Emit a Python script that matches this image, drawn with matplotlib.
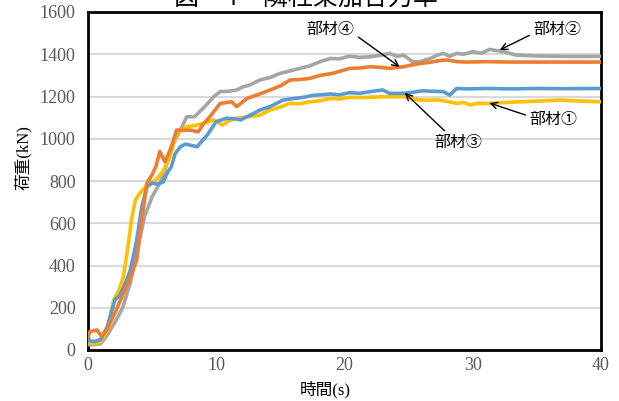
import matplotlib
matplotlib.use("Agg")
import matplotlib.pyplot as plt

# 部材① (yellow)
t1 = [0, 0.5, 1.0, 1.5, 2.0, 2.4, 2.75, 3.1, 3.4, 3.7, 4.05, 4.6, 5.2, 5.85, 6.4, 6.9,
      7.3, 7.7, 8.3, 9.0, 9.4, 9.8, 10.2, 10.5, 11.0, 11.6, 12.6, 13.4, 14.2, 15.0, 15.75,
      16.5, 17.3, 18.1, 18.9, 19.6, 20.4, 21.5, 23.0, 24.6, 25.3, 25.9, 26.7, 27.4, 28.2,
      28.75, 29.3, 29.8, 30.4, 31.1, 32.0, 33.7, 35.0, 36.8, 38.5, 40]
v1 = [35, 30, 40, 90, 237, 280, 345, 480, 620, 710, 743, 780, 800, 845, 915, 1026,
      1040, 1057, 1062, 1073, 1080, 1089, 1075, 1065, 1085, 1097, 1105, 1112, 1136, 1150, 1168,
      1165, 1175, 1180, 1191, 1188, 1196, 1195, 1199, 1199, 1190, 1183, 1183, 1183, 1175,
      1167, 1172, 1160, 1168, 1167, 1170, 1175, 1178, 1183, 1178, 1175]

# 部材② (gray)
t2 = [0, 0.5, 1.0, 1.5, 2.2, 2.7, 3.3, 3.8, 4.4, 5.0, 5.6, 6.0, 6.5, 7.2, 7.7, 8.3, 9.1,
      9.8, 10.3, 11.0, 11.6, 12.1, 12.6, 13.4, 14.2, 15.0, 15.7, 16.5, 17.3, 18.1, 18.9,
      19.6, 20.4, 21.2, 22.0, 22.8, 23.5, 24.1, 24.6, 25.3, 25.9, 26.7, 27.2, 27.7, 28.2,
      28.75, 29.3, 30.0, 30.7, 31.3, 32.4, 33.4, 35, 37, 40]
v2 = [25, 25, 30, 70, 142, 200, 317, 460, 630, 725, 790, 850, 960, 1041, 1104, 1104, 1152,
      1199, 1223, 1225, 1231, 1246, 1254, 1278, 1290, 1310, 1320, 1333, 1345, 1365, 1380,
      1378, 1391, 1385, 1388, 1395, 1404, 1390, 1396, 1365, 1365, 1380, 1395, 1404, 1390,
      1404, 1400, 1412, 1405, 1423, 1412, 1396, 1392, 1390, 1390]

# 部材③ (blue)
t3 = [0, 0.5, 1.0, 1.5, 2.1, 2.5, 3.0, 3.3, 3.8, 4.2, 4.6, 5.0, 5.4, 5.85, 6.2, 6.5, 6.8,
      7.2, 7.6, 7.95, 8.5, 8.9, 9.3, 10.0, 10.8, 11.4, 11.9, 12.6, 13.4, 14.2, 15.2, 16.0,
      16.8, 17.5, 18.9, 19.6, 20.4, 21.2, 22.0, 23.0, 23.5, 24.6, 25.3, 26.1, 26.8, 27.7,
      28.2, 28.75, 29.5, 31.1, 33, 35, 37, 40]
v3 = [45, 40, 50, 110, 237, 260, 330, 378, 520, 680, 773, 790, 785, 795, 840, 868, 930,
      962, 975, 970, 962, 990, 1018, 1081, 1097, 1095, 1089, 1110, 1136, 1152, 1183, 1190,
      1196, 1205, 1212, 1208, 1218, 1215, 1223, 1231, 1215, 1215, 1220, 1227, 1225, 1223,
      1207, 1238, 1236, 1238, 1236, 1238, 1237, 1238]

# 部材④ (orange)
t4 = [0, 0.15, 0.7, 1.07, 1.5, 2.2, 2.7, 3.2, 3.8, 4.2, 4.6, 5.0, 5.3, 5.6, 6.0, 6.5, 6.9,
      7.4, 7.95, 8.6, 9.0, 9.5, 10.3, 11.2, 11.6, 12.4, 13.4, 14.2, 15.0, 15.75, 16.5, 17.3,
      18.1, 19.1, 20.4, 21.2, 22.0, 22.8, 23.5, 24.6, 25.3, 26.0, 26.7, 27.4, 28.0, 28.75,
      29.5, 31.1, 33, 35, 37, 40]
v4 = [60, 87, 95, 63, 100, 189, 260, 330, 426, 620, 790, 830, 870, 940, 891, 960, 1041,
      1040, 1041, 1033, 1070, 1104, 1167, 1175, 1152, 1191, 1212, 1231, 1250, 1278, 1280, 1286,
      1300, 1310, 1333, 1335, 1341, 1338, 1333, 1341, 1350, 1357, 1362, 1370, 1373, 1365,
      1363, 1365, 1363, 1363, 1363, 1363]

labels = ["部材①", "部材②", "部材③", "部材④"]
colors = ["#FFC000", "#A5A5A5", "#5B9BD5", "#ED7D31"]

serif = ["Liberation Serif", "Noto Sans CJK JP"]
cjk = ["Noto Sans CJK JP", "DejaVu Sans"]
plt.rcParams["font.family"] = serif

fig = plt.figure(figsize=(6.19, 4.01), dpi=100)
ax = fig.add_axes([88 / 619, 51 / 401, 513 / 619, 338 / 401])

ax.plot(t2, v2, color=colors[1], lw=2.6, zorder=3)
ax.plot(t1, v1, color=colors[0], lw=2.6, zorder=3)
ax.plot(t3, v3, color=colors[2], lw=2.6, zorder=4)
ax.plot(t4, v4, color=colors[3], lw=2.6, zorder=5)

ax.set_xlim(0, 40)
ax.set_ylim(0, 1600)
ax.set_xticks([0, 10, 20, 30, 40])
ax.set_yticks(range(0, 1601, 200))
ax.grid(axis="y", color="#D9D9D9", lw=1.5, zorder=0)
ax.set_axisbelow(True)
for s in ax.spines.values():
    s.set_linewidth(2)
    s.set_color("black")
ax.tick_params(length=0, colors="#595959", labelsize=13)
ax.tick_params(axis="y", pad=9)
ax.tick_params(axis="x", pad=5)

# annotations: text position, arrow tip, arrow start on text
ann = [
    ("部材④", (18.9, 1515), (24.3, 1340), (1.0, 0.25)),
    ("部材②", (36.6, 1515), (32.1, 1420), (0.0, 0.3)),
    ("部材①", (36.3, 1090), (31.3, 1169), (0.0, 0.7)),
    ("部材③", (28.85, 980), (24.7, 1217), (0.3, 1.0)),
]
for txt, xyt, xy, rp in ann:
    ax.annotate(txt, xy=xy, xytext=xyt, ha="center", va="center", fontsize=11.5,
                family=cjk, zorder=6,
                arrowprops=dict(arrowstyle="->", color="black", lw=1,
                                relpos=rp, shrinkA=1, shrinkB=0))

fig.text(23 / 619, 1 - 158 / 401, "荷重(kN)", rotation=90, ha="center", va="center",
         fontsize=12, family=serif)
fig.text(325 / 619, 1 - 390 / 401, "時間(s)", ha="center", va="center",
         fontsize=12, family=serif)

# title, cut off at the top edge of the image as in the source
fig.text(306 / 619, 1 - 5 / 401, "図－4　隣柱架加合力率", ha="center", va="baseline",
         fontsize=18, family=cjk)

fig.savefig("out.png", dpi=100)
